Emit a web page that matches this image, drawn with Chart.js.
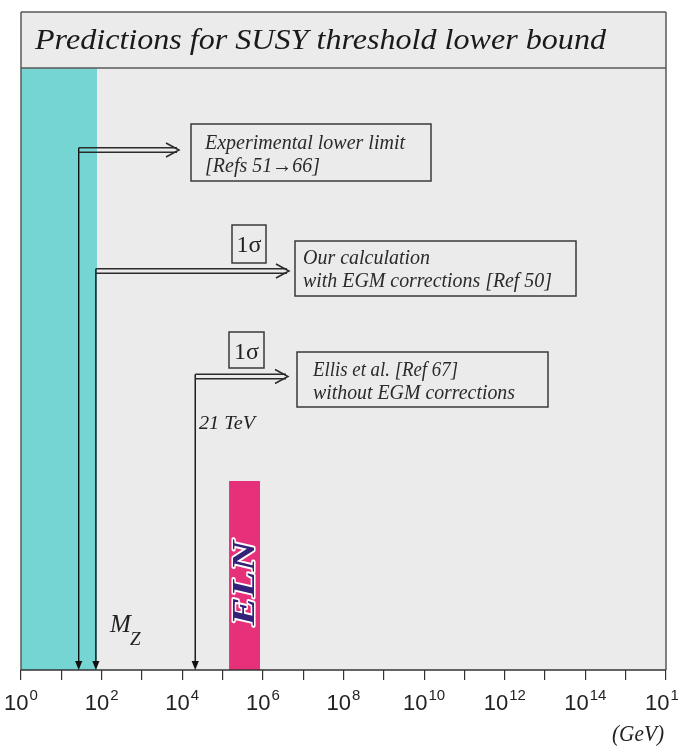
<!DOCTYPE html>
<html>
<head>
<meta charset="utf-8">
<title>Predictions for SUSY threshold lower bound</title>
<script src="https://cdn.jsdelivr.net/npm/chart.js@4.4.1/dist/chart.umd.min.js"></script>
<style>
  html, body { margin: 0; padding: 0; background: #ffffff; }
  #wrap { width: 678px; height: 751px; position: relative; }
</style>
</head>
<body>
<div id="wrap"><canvas id="c" width="678" height="751"></canvas></div>
<script>
// Energy axis: one tick per decade, labels on even powers of ten (GeV)
const decadeExponents = [0, 1, 2, 3, 4, 5, 6, 7, 8, 9, 10, 11, 12, 13, 14, 15, 16];
const labelledExponents = [0, 2, 4, 6, 8, 10, 12, 14, 16];

// Shaded region of excluded energies (GeV)
const excludedBand = [1, 77];
// ELN prediction band (GeV) and its bar height (% of frame)
const elnBand = [1.45e5, 8.5e5];
const elnHeight = 31.4;

// Lower-bound markers (GeV)
const markerEnergies = [27, 72, 21000];

const SERIF = '"Liberation Serif", "Times New Roman", serif';
const SANS = '"Liberation Sans", Arial, sans-serif';

// Annotation layout (pixels on the canvas)
const annot = {
  titleBox: { top: 12 },
  arrows: [
    { y: 150, tip: 179 },
    { y: 271, tip: 289 },
    { y: 376.5, tip: 288 }
  ],
  boxes: [
    { x: 191, y: 124, w: 240, h: 57, size: 22,
      lines: [['Experimental lower limit', 205, 149, 200], ['[Refs 51\u219266]', 205, 172, 115]] },
    { x: 295, y: 241, w: 281, h: 55, size: 20,
      lines: [['Our calculation', 303, 264, 127], ['with EGM corrections [Ref 50]', 303, 287, 249]] },
    { x: 297, y: 352, w: 251, h: 55, size: 20,
      lines: [['Ellis et al. [Ref 67]', 313, 376, 145], ['without EGM corrections', 313, 399, 202]] }
  ],
  sigmaBoxes: [
    { x: 232, y: 225, w: 34, h: 38, base: 252 },
    { x: 229, y: 332, w: 35, h: 36, base: 359 }
  ]
};

function drawText(ctx, str, x, y, font, targetWidth, align) {
  ctx.save();
  ctx.font = font;
  ctx.textBaseline = 'alphabetic';
  ctx.textAlign = 'left';
  const w = ctx.measureText(str).width;
  let sx = 1;
  if (targetWidth) sx = Math.max(0.75, Math.min(1.3, targetWidth / w));
  let x0 = x;
  if (align === 'right') x0 = x - w * sx;
  if (align === 'center') x0 = x - w * sx / 2;
  ctx.translate(x0, y);
  ctx.scale(sx, 1);
  ctx.fillText(str, 0, 0);
  ctx.restore();
}

function doubleArrow(ctx, x0, x1, y) {
  ctx.save();
  ctx.strokeStyle = '#2b2b2b';
  ctx.lineWidth = 1.5;
  ctx.beginPath();
  ctx.moveTo(x0, y - 2.3); ctx.lineTo(x1 - 2, y - 2.3);
  ctx.moveTo(x0, y + 2.3); ctx.lineTo(x1 - 2, y + 2.3);
  ctx.stroke();
  ctx.beginPath();
  ctx.moveTo(x1 - 13, y - 7);
  ctx.lineTo(x1, y);
  ctx.lineTo(x1 - 13, y + 7);
  ctx.stroke();
  ctx.restore();
}

function downArrow(ctx, x, yTop, yBottom) {
  ctx.save();
  ctx.strokeStyle = '#111';
  ctx.fillStyle = '#111';
  ctx.lineWidth = 1.4;
  ctx.beginPath();
  ctx.moveTo(x, yTop);
  ctx.lineTo(x, yBottom - 6);
  ctx.stroke();
  ctx.beginPath();
  ctx.moveTo(x - 3.6, yBottom - 9);
  ctx.lineTo(x + 3.6, yBottom - 9);
  ctx.lineTo(x, yBottom);
  ctx.closePath();
  ctx.fill();
  ctx.restore();
}

const decorations = {
  id: 'decorations',
  beforeDraw(chart) {
    const { ctx, chartArea: a } = chart;
    ctx.save();
    ctx.fillStyle = '#ebebeb';
    ctx.fillRect(a.left, annot.titleBox.top, a.right - a.left, a.bottom - annot.titleBox.top);
    ctx.restore();
  },
  afterDatasetsDraw(chart) {
    const { ctx, chartArea: a, scales } = chart;
    const xs = scales.x;

    // ELN label inside the pink band
    const ex = (xs.getPixelForValue(elnBand[0]) + xs.getPixelForValue(elnBand[1])) / 2;
    ctx.save();
    ctx.translate(ex + 1, 583);
    ctx.rotate(-Math.PI / 2);
    ctx.font = 'italic bold 32px ' + SERIF;
    const ew = ctx.measureText('ELN').width;
    const es = 85 / ew;
    ctx.scale(es, 1);
    ctx.textAlign = 'center';
    ctx.textBaseline = 'middle';
    ctx.lineJoin = 'round';
    ctx.strokeStyle = '#ffffff';
    ctx.lineWidth = 3;
    ctx.strokeText('ELN', 0, 0);
    ctx.fillStyle = '#34227a';
    ctx.fillText('ELN', 0, 0);
    ctx.restore();

    // Frame around title and plot
    ctx.save();
    ctx.strokeStyle = '#5a5a5a';
    ctx.lineWidth = 1.5;
    ctx.beginPath();
    ctx.moveTo(a.left, annot.titleBox.top); ctx.lineTo(a.right, annot.titleBox.top);
    ctx.moveTo(a.left, a.top); ctx.lineTo(a.right, a.top);
    ctx.moveTo(a.left, annot.titleBox.top); ctx.lineTo(a.left, a.bottom);
    ctx.moveTo(a.right, annot.titleBox.top); ctx.lineTo(a.right, a.bottom);
    ctx.stroke();
    ctx.strokeStyle = '#333';
    ctx.beginPath();
    ctx.moveTo(a.left, a.bottom); ctx.lineTo(a.right, a.bottom);
    ctx.stroke();
    ctx.restore();

    ctx.fillStyle = '#1a1a1a';
    // Title
    drawText(ctx, 'Predictions for SUSY threshold lower bound', 35, 49, 'italic 30px ' + SERIF, 571);

    // Marker arrows
    markerEnergies.forEach((e, i) => {
      const x = xs.getPixelForValue(e);
      const ar = annot.arrows[i];
      downArrow(ctx, x, ar.y - 2.3, a.bottom);
      doubleArrow(ctx, x, ar.tip, ar.y);
    });

    // Text boxes
    ctx.save();
    annot.boxes.forEach(b => {
      ctx.strokeStyle = '#3a3a3a';
      ctx.lineWidth = 1.5;
      ctx.strokeRect(b.x, b.y, b.w, b.h);
      ctx.fillStyle = '#2a2a2a';
      b.lines.forEach(l => drawText(ctx, l[0], l[1], l[2], 'italic ' + b.size + 'px ' + SERIF, l[3]));
    });
    annot.sigmaBoxes.forEach(s => {
      ctx.strokeStyle = '#3a3a3a';
      ctx.lineWidth = 1.5;
      ctx.strokeRect(s.x, s.y, s.w, s.h);
      ctx.fillStyle = '#222';
      drawText(ctx, '1\u03c3', s.x + s.w / 2, s.base, '24px ' + SERIF, 25, 'center');
    });
    ctx.restore();

    // Energy value of the third marker
    ctx.fillStyle = '#222';
    drawText(ctx, '21 TeV', 199, 429, 'italic 18px ' + SERIF, 56);

    // Z boson mass label
    drawText(ctx, 'M', 110, 632, 'italic 25px ' + SERIF);
    drawText(ctx, 'Z', 130, 645, 'italic 19px ' + SERIF);

    // Tick labels: powers of ten
    ctx.fillStyle = '#222';
    labelledExponents.forEach(e => {
      const x = xs.getPixelForValue(Math.pow(10, e));
      ctx.font = '22px ' + SANS;
      const w1 = ctx.measureText('10').width;
      ctx.font = '15px ' + SANS;
      const w2 = ctx.measureText(String(e)).width;
      const start = x - (w1 + w2 + 1) / 2;
      ctx.font = '22px ' + SANS;
      ctx.textAlign = 'left';
      ctx.fillText('10', start, 710);
      ctx.font = '15px ' + SANS;
      ctx.fillText(String(e), start + w1 + 1, 700);
    });

    // Unit
    drawText(ctx, '(GeV)', 664, 741, 'italic 23px ' + SERIF, 52, 'right');
  }
};

new Chart(document.getElementById('c').getContext('2d'), {
  type: 'scatter',
  data: {
    datasets: [
      {
        label: 'excluded',
        data: excludedBand.map(x => ({ x, y: 100 })),
        showLine: true,
        fill: 'origin',
        backgroundColor: '#74d5d3',
        borderWidth: 0,
        pointRadius: 0
      },
      {
        label: 'ELN',
        data: elnBand.map(x => ({ x, y: elnHeight })),
        showLine: true,
        fill: 'origin',
        backgroundColor: '#e7307a',
        borderWidth: 0,
        pointRadius: 0
      }
    ]
  },
  options: {
    responsive: false,
    animation: false,
    events: [],
    layout: { padding: { left: 21, right: 12, top: 68, bottom: 0 } },
    plugins: { legend: { display: false }, tooltip: { enabled: false }, title: { display: false } },
    scales: {
      x: {
        type: 'logarithmic',
        min: 1,
        max: 1e16,
        afterBuildTicks: s => { s.ticks = decadeExponents.map(e => ({ value: Math.pow(10, e) })); },
        afterFit: s => { s.height = 81; },
        ticks: { display: false },
        grid: { drawOnChartArea: false, drawTicks: true, tickLength: 10, color: '#333', lineWidth: 1.2 },
        border: { display: false }
      },
      y: { display: false, min: 0, max: 100 }
    }
  },
  plugins: [decorations]
});
</script>
</body>
</html>
